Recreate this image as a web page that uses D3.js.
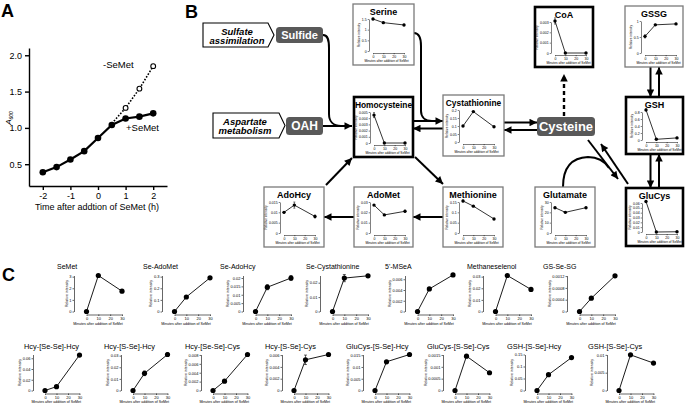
<!DOCTYPE html>
<html>
<head>
<meta charset="utf-8">
<script src="https://cdn.jsdelivr.net/npm/d3@7"></script>
<style>
  body { margin: 0; background: #fff; }
  svg { display: block; font-family: "Liberation Sans", Arial, sans-serif; }
</style>
</head>
<body>
<svg id="fig" width="685" height="404"></svg>
<script>
// ---- panel A: growth curve ----
const hours = [-2, -1.5, -1, -0.5, 0, 0.5, 1, 1.5, 2];
const plusSeMet = [0.39, 0.46, 0.565, 0.68, 0.86, 1.04, 1.13, 1.155, 1.2];
const minusHours = [0.5, 1, 1.5, 2];
const minusSeMet = [1.06, 1.275, 1.54, 1.85];
const hourTicks = [-2, -1, 0, 1, 2];
const absTicks = [0.5, 1.0, 1.5, 2.0];

// sampling times of the metabolite curves (min)
const minutes = [0, 10, 30];
const minuteTicks = [0, 10, 20, 30];

// ---- panel B: metabolites ----
const bNames = ["Serine", "CoA", "GSSG", "Homocysteine", "Cystathionine", "GSH",
  "AdoHcy", "AdoMet", "Methionine", "Glutamate", "GluCys"];
const bValues = [
  [1.5, 1.33, 1.22],
  [0.0031, 0, 0],
  [0.52, 0.88, 0.91],
  [0.0045, 0, 0],
  [0.1, 0.19, 0.095],
  [0.86, 0.02, 0.06],
  [0.01, 0.0135, 0.008],
  [0.027, 0.0175, 0.021],
  [0.155, 0.13, 0.068],
  [24.5, 20, 24.5],
  [0.063, 0, 0.0005]
];
const bErr = [
  [0.03, 0.02, 0.03],
  [0.0003, 0, 0],
  [0.05, 0.02, 0.02],
  [0.0004, 0, 0],
  [0, 0, 0],
  [0.03, 0.01, 0.02],
  [0.0004, 0.0015, 0.0007],
  [0.0005, 0.0005, 0.001],
  [0.004, 0.002, 0.002],
  [0.5, 0.5, 0.5],
  [0.002, 0, 0.0003]
];
const bTicks = [
  [0, 0.5, 1, 1.5],
  [0, 0.001, 0.002, 0.003],
  [0, 0.5, 1],
  [0, 0.001, 0.002, 0.003, 0.004, 0.005],
  [0, 0.05, 0.1, 0.15, 0.2],
  [0, 0.2, 0.4, 0.6, 0.8],
  [0, 0.005, 0.01, 0.015],
  [0, 0.01, 0.02, 0.03],
  [0, 0.05, 0.1, 0.15],
  [0, 10, 20, 30],
  [0, 0.01, 0.02, 0.03, 0.04, 0.05, 0.06]
];

// ---- panel C: selenium metabolites ----
const cNames = ["SeMet", "Se-AdoMet", "Se-AdoHcy", "Se-Cystathionine", "5'-MSeA", "Methaneselenol", "GS-Se-SG",
  "Hcy-[Se-Se]-Hcy", "Hcy-[S-Se]-Hcy", "Hcy-[Se-Se]-Cys", "Hcy-[S-Se]-Cys",
  "GluCys-[S-Se]-Hcy", "GluCys-[S-Se]-Cys", "GSH-[S-Se]-Hcy", "GSH-[S-Se]-Cys"];
const cValues = [
  [0, 3.1, 1.75],
  [0, 0.125, 0.29],
  [0, 0.0145, 0.02],
  [0, 0.0232, 0.0248],
  [0, 0.0042, 0.0068],
  [0, 0.031, 0.019],
  [0, 0.00045, 0.00121],
  [0, 0.0072, 0.066],
  [0, 0.0148, 0.031],
  [0, 0.0021, 0.0081],
  [0, 0.0052, 0.0061],
  [0, 0.0122, 0.0153],
  [0, 0.00145, 0.00075],
  [0, 0.066, 0.137],
  [0, 0.01, 0.0077]
];
const cErr = [
  [0, 0.05, 0.05],
  [0, 0.004, 0.004],
  [0, 0.0015, 0.0015],
  [0, 0.0025, 0.0005],
  [0, 0.0001, 0.0001],
  [0, 0.0008, 0.0004],
  [0, 0.00003, 0.00004],
  [0, 0.0008, 0.0015],
  [0, 0.002, 0.0015],
  [0, 0.0003, 0.0002],
  [0, 0.0008, 0.0001],
  [0, 0.0002, 0.0002],
  [0, 0.00003, 0.00002],
  [0, 0.002, 0.002],
  [0, 0.0002, 0.0002]
];
const cTicks = [
  [0, 1, 2, 3],
  [0, 0.1, 0.2, 0.3],
  [0, 0.005, 0.01, 0.015, 0.02],
  [0, 0.01, 0.02],
  [0, 0.002, 0.004, 0.006],
  [0, 0.01, 0.02, 0.03],
  [0, 0.0004, 0.0008, 0.0012],
  [0, 0.02, 0.04, 0.06],
  [0, 0.01, 0.02, 0.03],
  [0, 0.002, 0.004, 0.006, 0.008],
  [0, 0.002, 0.004, 0.006],
  [0, 0.005, 0.01, 0.015],
  [0, 0.0005, 0.001, 0.0015],
  [0, 0.05, 0.1, 0.15],
  [0, 0.005, 0.01]
];
// top of each y axis (where it runs past the last tick)
const cYMax = [3.1, 0.31, 0.0215, 0.025, 0.0067, 0.031, 0.00122,
  0.067, 0.031, 0.0081, 0.0061, 0.0153, 0.00152, 0.15, 0.0101];

// layout (pixel positions only)
const bBoxes = [
  {x: 353, y: 4, w: 61, h: 61},
  {x: 535, y: 7, w: 58, h: 60, thick: true},
  {x: 625, y: 6, w: 58, h: 61},
  {x: 354, y: 97, w: 59, h: 60, thick: true},
  {x: 443, y: 95, w: 61, h: 61},
  {x: 626, y: 97, w: 57, h: 57, thick: true},
  {x: 264, y: 187, w: 60, h: 60},
  {x: 354, y: 187, w: 59, h: 60},
  {x: 443, y: 187, w: 60, h: 60},
  {x: 535, y: 187, w: 60, h: 60},
  {x: 626, y: 188, w: 57, h: 58, thick: true}
];
const cAxisX = [74, 162, 243, 320, 405, 483, 567, 33, 121, 201, 282, 363, 443, 525, 607];
const cTitleX = [57, 143, 220, 306, 385, 467, 543, 24, 104, 185, 265, 346, 427, 507, 588];

const svg = d3.select("#fig");
const font = "Liberation Sans, Arial, sans-serif";

function styleAxis(a, fs, sw) {
  a.attr("font-size", fs).attr("font-family", font);
  a.selectAll("path, line").attr("stroke", "#000").attr("stroke-width", sw);
  a.selectAll("text").attr("fill", "#000");
}

function miniPlot(g, vals, err, ticks, yMax, f) {
  const x = d3.scaleLinear().domain([0, 30]).range([f.x0, f.x1]);
  const y = d3.scaleLinear().domain([0, yMax]).range([f.zero, f.top]);
  const ya = g.append("g").attr("transform", `translate(${f.ax},0)`)
    .call(d3.axisLeft(y).tickValues(ticks).tickFormat(d => String(d))
      .tickSize(f.tick).tickSizeOuter(0).tickPadding(1));
  styleAxis(ya, f.tickFont, f.sw);
  const xa = g.append("g").attr("transform", `translate(0,${f.xAxisY})`)
    .call(d3.axisBottom(x).tickValues(minuteTicks).tickFormat(d => String(d))
      .tickSize(f.tick).tickSizeOuter(0).tickPadding(1));
  styleAxis(xa, f.tickFont, f.sw);

  const bb = ya.node().getBBox();
  g.append("text")
    .attr("transform", `translate(${f.ax + bb.x - 1.5},${(f.top + f.zero) / 2}) rotate(-90)`)
    .attr("text-anchor", "middle").attr("font-size", f.labelFont).attr("font-family", font)
    .text("Relative intensity");
  g.append("text")
    .attr("x", (f.ax + f.x1) / 2).attr("y", f.xlabY)
    .attr("text-anchor", "middle").attr("font-size", f.labelFont).attr("font-family", font)
    .text("Minutes after addition of SeMet");

  const pts = vals.map((v, i) => [x(minutes[i]), y(v)]);
  g.append("path").attr("d", d3.line()(pts))
    .attr("fill", "none").attr("stroke", "#000").attr("stroke-width", f.lw);
  err.forEach((e, i) => {
    if (!e) return;
    const px = x(minutes[i]);
    const y1 = y(vals[i] - e), y2 = y(vals[i] + e);
    g.append("path")
      .attr("d", `M${px},${y1}V${y2}M${px - f.cap},${y1}H${px + f.cap}M${px - f.cap},${y2}H${px + f.cap}`)
      .attr("stroke", "#000").attr("stroke-width", f.sw).attr("fill", "none");
  });
  g.selectAll(null).data(pts).join("circle")
    .attr("cx", d => d[0]).attr("cy", d => d[1]).attr("r", f.r).attr("fill", "#000");
}

// ================= Panel A =================
const gA = svg.append("g");
gA.append("text").attr("x", 1).attr("y", 17).attr("font-size", 18).attr("font-weight", "bold")
  .attr("font-family", font).text("A");

const xA = d3.scaleLinear().domain([-2.5, 2.5]).range([29, 167]);
const yA = d3.scaleLinear().domain([0.2, 2.1]).range([186, 48]);

const axA = gA.append("g").attr("transform", "translate(29,0)")
  .call(d3.axisLeft(yA).tickValues(absTicks).tickFormat(d3.format(".1f")).tickSize(4).tickSizeOuter(0).tickPadding(3));
styleAxis(axA, 9, 1.4);
const axB = gA.append("g").attr("transform", "translate(0,186)")
  .call(d3.axisBottom(xA).tickValues(hourTicks).tickFormat(d => d < 0 ? "-" + Math.abs(d) : String(d))
    .tickSize(4).tickSizeOuter(0).tickPadding(3));
styleAxis(axB, 9, 1.4);

const ylab = gA.append("text").attr("transform", "translate(11,118) rotate(-90)")
  .attr("text-anchor", "middle").attr("font-size", 8).attr("font-style", "italic").attr("font-family", font);
ylab.append("tspan").text("A");
ylab.append("tspan").attr("font-size", 5).attr("dy", 2).text("600");

gA.append("text").attr("x", 97).attr("y", 210).attr("text-anchor", "middle")
  .attr("font-size", 9).attr("font-family", font).text("Time after addtion of SeMet (h)");

const lineA = d3.line().x(d => xA(d[0])).y(d => yA(d[1]));
const minusPts = minusHours.map((h, i) => [h, minusSeMet[i]]);
const plusPts = hours.map((h, i) => [h, plusSeMet[i]]);
gA.append("path").attr("d", lineA(minusPts)).attr("fill", "none").attr("stroke", "#000")
  .attr("stroke-width", 1.6).attr("stroke-dasharray", "1.6,1.6");
gA.append("path").attr("d", lineA(plusPts)).attr("fill", "none").attr("stroke", "#000")
  .attr("stroke-width", 2.2);
gA.selectAll(null).data(minusPts.slice(1)).join("circle")
  .attr("cx", d => xA(d[0])).attr("cy", d => yA(d[1])).attr("r", 2.4)
  .attr("fill", "#fff").attr("stroke", "#000").attr("stroke-width", 1.1);
gA.selectAll(null).data(plusPts).join("circle")
  .attr("cx", d => xA(d[0])).attr("cy", d => yA(d[1])).attr("r", 3.3).attr("fill", "#000");
gA.append("text").attr("x", 103).attr("y", 68).attr("font-size", 9.5).attr("font-family", font).text("-SeMet");
gA.append("text").attr("x", 126).attr("y", 131).attr("font-size", 9.5).attr("font-family", font).text("+SeMet");

// ================= Panel B =================
const gB = svg.append("g");
gB.append("text").attr("x", 185).attr("y", 18).attr("font-size", 18).attr("font-weight", "bold")
  .attr("font-family", font).text("B");

const defs = svg.append("defs");
defs.append("marker").attr("id", "ah").attr("viewBox", "0 0 10 10").attr("refX", 10).attr("refY", 5)
  .attr("markerWidth", 9).attr("markerHeight", 7.5).attr("markerUnits", "userSpaceOnUse").attr("orient", "auto")
  .append("path").attr("d", "M0,0L10,5L0,10Z").attr("fill", "#000");

// arrows
const arrows = [
  {d: "M323,126L352,126", head: true},
  {d: "M323,35C328,35 329,40 329,48L329,114C329,121 333,126 341,126"},
  {d: "M414,33C419,33 421,38 421,46L421,111C421,117 425,121 432,121"},
  {d: "M413,121L443,121", head: true},
  {d: "M443,128.5L413,128.5", head: true},
  {d: "M504,122.5L537,122.5", head: true},
  {d: "M537,130L504,130", head: true},
  {d: "M564,116L564,74", head: true, dash: "4,3"},
  {d: "M650.5,67L650.5,97", head: true},
  {d: "M659,97L659,67", head: true},
  {d: "M650.5,154L650.5,188", head: true},
  {d: "M659,188L659,154", head: true},
  {d: "M588,140L618,179", head: true},
  {d: "M628,184L601,144", head: true},
  {d: "M563,187Q563,158 588,157Q602,157 609,168"},
  {d: "M415,157L443,184", head: true},
  {d: "M443,217L413,217", head: true},
  {d: "M354,217L324,217", head: true},
  {d: "M326,185L352,158", head: true}
];
arrows.forEach(a => {
  const p = gB.append("path").attr("d", a.d).attr("fill", "none").attr("stroke", "#000")
    .attr("stroke-width", a.dash ? 2.4 : 2);
  if (a.head) p.attr("marker-end", "url(#ah)");
  if (a.dash) p.attr("stroke-dasharray", a.dash);
});

// pentagon labels
function tag(pts, lines, cx, y0) {
  gB.append("polygon").attr("points", pts.map(p => p.join(",")).join(" "))
    .attr("fill", "#fff").attr("stroke", "#000").attr("stroke-width", 1.1);
  lines.forEach((t, i) => gB.append("text").attr("x", cx).attr("y", y0 + i * 9.5)
    .attr("text-anchor", "middle").attr("font-size", 9.5).attr("font-weight", "bold")
    .attr("font-style", "italic").attr("font-family", font).text(t));
}
tag([[203, 23], [268, 23], [274, 35], [268, 47], [203, 47]], ["Sulfate", "assimilation"], 237, 34.5);
tag([[213, 113], [279, 113], [285, 125.5], [279, 138], [213, 138]], ["Aspartate", "metabolism"], 245, 124.5);

function pill(x, y, w, h, t, fs) {
  gB.append("rect").attr("x", x).attr("y", y).attr("width", w).attr("height", h).attr("rx", 3.5)
    .attr("fill", "#595959");
  gB.append("text").attr("x", x + w / 2).attr("y", y + h / 2 + fs * 0.36).attr("text-anchor", "middle")
    .attr("font-size", fs).attr("font-weight", "bold").attr("fill", "#fff").attr("font-family", font).text(t);
}
pill(276, 27, 47, 16, "Sulfide", 11);
pill(286, 117, 37, 18, "OAH", 12);
pill(537, 117, 58, 19, "Cysteine", 13);

bNames.forEach((name, i) => {
  const b = bBoxes[i];
  const g = gB.append("g");
  g.append("rect").attr("x", b.x).attr("y", b.y).attr("width", b.w).attr("height", b.h)
    .attr("fill", "#fff").attr("stroke", b.thick ? "#000" : "#7a7a7a").attr("stroke-width", b.thick ? 2.6 : 1.3);
  g.append("text").attr("x", b.x + b.w / 2).attr("y", b.y + 11).attr("text-anchor", "middle")
    .attr("font-size", name.length > 10 ? 8.4 : 9).attr("font-weight", "bold").attr("font-family", font).text(name);
  miniPlot(g, bValues[i], bErr[i], bTicks[i], d3.max(bTicks[i]), {
    ax: b.x + 16, x0: b.x + 20, x1: b.x + 51,
    top: b.y + 15, zero: b.y + b.h - 14, xAxisY: b.y + b.h - 12, xlabY: b.y + b.h - 3.5,
    tickFont: 3.5, labelFont: 3.2, tick: 1.3, sw: 0.5, lw: 0.8, r: 1.7, cap: 1
  });
});

// ================= Panel C =================
const gC = svg.append("g");
gC.append("text").attr("x", 2).attr("y", 281).attr("font-size", 18).attr("font-weight", "bold")
  .attr("font-family", font).text("C");

cNames.forEach((name, i) => {
  const row2 = i >= 7;
  const ax = cAxisX[i];
  const g = gC.append("g");
  g.append("text").attr("x", cTitleX[i]).attr("y", row2 ? 348.5 : 268.5)
    .attr("font-size", row2 ? 7.4 : 7).attr("font-family", font).text(name);
  miniPlot(g, cValues[i], cErr[i], cTicks[i], cYMax[i], row2 ? {
    ax: ax, x0: ax + 12, x1: ax + 46.5,
    top: 354.5, zero: 390.5, xAxisY: 393.5, xlabY: 403,
    tickFont: 4, labelFont: 3.6, tick: 1.5, sw: 0.6, lw: 0.9, r: 2.6, cap: 1.5
  } : {
    ax: ax, x0: ax + 12.5, x1: ax + 48,
    top: 275.5, zero: 311.5, xAxisY: 314.5, xlabY: 325,
    tickFont: 4, labelFont: 3.6, tick: 1.5, sw: 0.6, lw: 0.9, r: 2.6, cap: 1.5
  });
});
</script>
</body>
</html>
